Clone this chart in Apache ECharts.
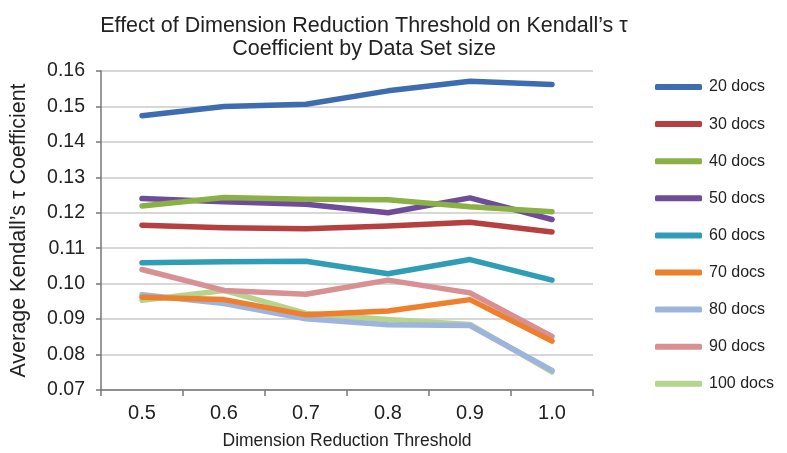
<!DOCTYPE html>
<html>
<head>
<meta charset="utf-8">
<script src="https://cdn.jsdelivr.net/npm/echarts@6/dist/echarts.min.js"></script>
<style>
  html, body { margin: 0; padding: 0; background: #fff; }
  #chart { width: 787px; height: 453px; }
</style>
</head>
<body>
<div id="chart"></div>
<script>
const thresholds = ['0.5', '0.6', '0.7', '0.8', '0.9', '1.0'];
const seriesNames = ['20 docs', '30 docs', '40 docs', '50 docs', '60 docs', '70 docs', '80 docs', '90 docs', '100 docs'];
const docs20 = [0.1474, 0.1500, 0.1506, 0.1544, 0.1571, 0.1562];
const docs30 = [0.1165, 0.1158, 0.1155, 0.1163, 0.1173, 0.1146];
const docs40 = [0.1219, 0.1243, 0.1238, 0.1237, 0.1217, 0.1203];
const docs50 = [0.1240, 0.1231, 0.1224, 0.1200, 0.1242, 0.1181];
const docs60 = [0.1059, 0.1062, 0.1063, 0.1028, 0.1068, 0.1010];
const docs70 = [0.0962, 0.0955, 0.0912, 0.0923, 0.0955, 0.0838];
const docs80 = [0.0969, 0.0944, 0.0901, 0.0884, 0.0882, 0.0755];
const docs90 = [0.1040, 0.0981, 0.0970, 0.1010, 0.0974, 0.0851];
const docs100 = [0.0953, 0.0981, 0.0916, 0.0899, 0.0885, 0.0751];

const allValues = [docs20, docs30, docs40, docs50, docs60, docs70, docs80, docs90, docs100];
const colors = ['#3d6db0', '#b5403f', '#8ab046', '#6f4c9a', '#2e9db5', '#ee7f2c', '#9db5dc', '#d99093', '#b6d48e'];

var chartDom = document.getElementById('chart');
var myChart = echarts.init(chartDom);

const textFont = 'Liberation Sans, Arial, sans-serif';

var series = seriesNames.map((name, i) => ({
	name: name,
	type: 'line',
	data: allValues[i],
	showSymbol: false,
	symbol: 'none',
	lineStyle: { width: 5.5, color: colors[i], cap: 'round', join: 'round' },
	itemStyle: { color: colors[i] },
	z: 10 - i
}));

var option = {
	animation: false,
	title: {
		text: "Effect of Dimension Reduction Threshold on Kendall\u2019s \u03c4\nCoefficient by Data Set size",
		left: 359,
		top: 10,
		textAlign: 'center',
		textStyle: {
			fontFamily: textFont,
			fontWeight: 'normal',
			fontSize: 21.5,
			lineHeight: 23,
			color: '#222'
		}
	},
	grid: {
		left: 101,
		right: 194,
		top: 71,
		bottom: 63,
		containLabel: false,
		outerBoundsMode: 'none'
	},
	legend: {
		orient: 'vertical',
		left: 655,
		top: 79,
		padding: 0,
		itemWidth: 47,
		itemHeight: 6,
		itemGap: 21.1,
		icon: 'roundRect',
		textStyle: {
			fontFamily: textFont,
			fontSize: 16,
			lineHeight: 16,
			color: '#222',
			padding: [0, 0, 0, 2]
		},
		data: seriesNames
	},
	xAxis: {
		type: 'category',
		data: thresholds,
		boundaryGap: true,
		name: 'Dimension Reduction Threshold',
		nameLocation: 'middle',
		nameGap: 42,
		nameTextStyle: { fontFamily: textFont, fontSize: 17.5, color: '#222' },
		axisLine: { lineStyle: { color: '#777', width: 1.5 } },
		axisTick: { show: true, alignWithLabel: false, length: 6, lineStyle: { color: '#777', width: 1.5 } },
		axisLabel: { fontFamily: textFont, fontSize: 20, color: '#222', margin: 13 }
	},
	yAxis: {
		type: 'value',
		min: 0.07,
		max: 0.16,
		interval: 0.01,
		name: "Average Kendall\u2019s \u03c4 Coefficient",
		nameLocation: 'middle',
		nameRotate: 90,
		nameGap: 71,
		nameTextStyle: { fontFamily: textFont, fontSize: 21.5, color: '#222' },
		axisLine: { show: true, lineStyle: { color: '#777', width: 1.5 } },
		axisTick: { show: true, length: 5, lineStyle: { color: '#777', width: 1.5 } },
		axisLabel: {
			fontFamily: textFont,
			fontSize: 19.5,
			color: '#222',
			margin: 16,
			formatter: v => v.toFixed(2)
		},
		splitLine: { lineStyle: { color: '#cacaca', width: 1.5 } }
	},
	series: series
};

option && myChart.setOption(option);
</script>
</body>
</html>
